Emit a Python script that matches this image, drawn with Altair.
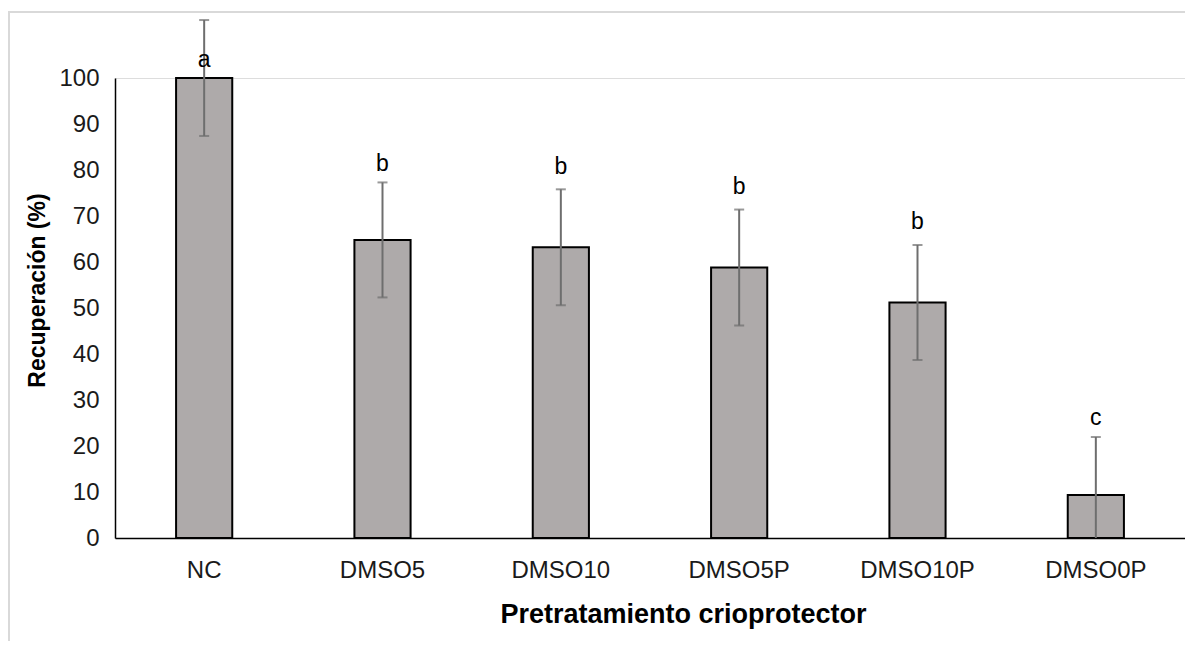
import altair as alt
import pandas as pd

categories = ["NC", "DMSO5", "DMSO10", "DMSO5P", "DMSO10P", "DMSO0P"]
means = [100.0, 64.8, 63.2, 58.8, 51.2, 9.35]
sds = [12.6, 12.5, 12.6, 12.6, 12.5, 12.6]
letters = ["a", "b", "b", "b", "b", "c"]
letter_pos = [103.9, 81.3, 80.7, 76.3, 68.7, 26.1]

rows = []
for c, m, s, l, lp in zip(categories, means, sds, letters, letter_pos):
    lo = m - s
    rows.append({"cat": c, "mean": m, "hi": m + s, "lo": max(lo, 0.0),
                 "locap": 1 if lo >= 0 else 0, "letter": l, "lpos": lp})
df = pd.DataFrame(rows)

FONT = "Liberation Sans, Arial, sans-serif"

xscale = alt.Scale(domain=categories, paddingInner=0.685, paddingOuter=0.3425)
yscale = alt.Scale(domain=[0, 100], nice=False, zero=True)

x = alt.X("cat:N", scale=xscale, sort=categories,
          axis=alt.Axis(title="Pretratamiento crioprotector", labelAngle=0,
                        ticks=False, tickSize=0, labelPadding=39,
                        labelBaseline="alphabetic", labelFontSize=24,
                        labelColor="#1a1a1a", labelFont=FONT,
                        titleFont=FONT, titleFontSize=27, titleFontWeight="bold",
                        titleColor="#000000", titleX=568, titleY=84,
                        titleAlign="center", titleBaseline="alphabetic",
                        domainColor="#000000", domainWidth=1.5, grid=False))

base = alt.Chart(df)

bars = base.mark_bar(fill="#AEAAAA", stroke="#000000", strokeWidth=2).encode(
    x=x,
    y=alt.Y("mean:Q", scale=yscale,
            axis=alt.Axis(title="Recuperación (%)", values=list(range(0, 101, 10)),
                          ticks=False, tickSize=0, labelPadding=16,
                          labelFontSize=24, labelColor="#1a1a1a", labelFont=FONT,
                          titleFont=FONT,
                          titleFontSize=23, titleFontWeight="bold",
                          titleColor="#000000", titleX=-71, titleY=212,
                          titleAngle=-90, titleAlign="center",
                          titleBaseline="alphabetic",
                          domainColor="#000000", domainWidth=1.5, grid=False)),
)

err = base.mark_rule(color="#6E6E6E", strokeWidth=2).encode(
    x=alt.X("cat:N", scale=xscale, sort=categories),
    y=alt.Y("lo:Q", scale=yscale),
    y2="hi:Q",
)

cap_hi = base.mark_tick(color="#6E6E6E", thickness=2, size=10, orient="horizontal").encode(
    x=alt.X("cat:N", scale=xscale, sort=categories),
    y=alt.Y("hi:Q", scale=yscale),
)

cap_lo = base.transform_filter(alt.datum.locap == 1).mark_tick(
    color="#6E6E6E", thickness=2, size=10, orient="horizontal").encode(
    x=alt.X("cat:N", scale=xscale, sort=categories),
    y=alt.Y("lo:Q", scale=yscale),
)

labels = base.mark_text(fontSize=23, font=FONT, color="#000000", baseline="middle").encode(
    x=alt.X("cat:N", scale=xscale, sort=categories),
    y=alt.Y("lpos:Q", scale=yscale),
    text="letter:N",
)

border = alt.Chart(alt.Data(values=[{"k": 1}])).mark_rect(
    fillOpacity=0, stroke="#D9D9D9", strokeWidth=2).encode(
    x=alt.value(-106), x2=alt.value(1090), y=alt.value(-66), y2=alt.value(600))

chart = alt.layer(border, bars, err, cap_hi, cap_lo, labels).properties(
    width=1070, height=460,
    autosize=alt.AutoSizeParams(type="none"),
    padding={"left": 107, "top": 70, "right": 0, "bottom": 103},
).configure_view(stroke=None).configure(background="#ffffff")

chart.save("out.html", embed_options={"renderer": "svg", "actions": False})
